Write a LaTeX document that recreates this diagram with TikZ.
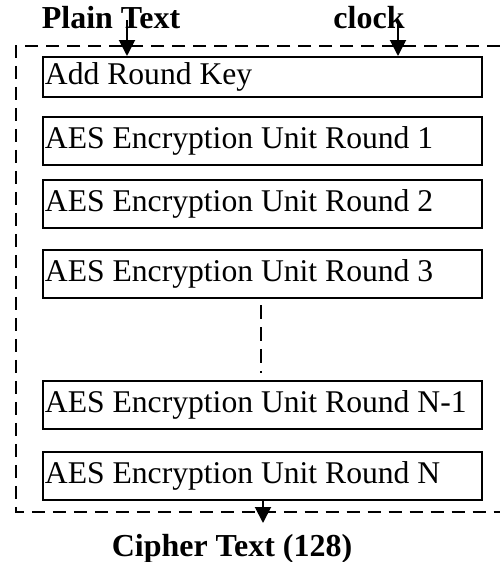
\documentclass[tikz,border=0pt]{standalone}
\usepackage{fontspec}
\setmainfont{Liberation Serif}
\usetikzlibrary{arrows.meta}
\begin{document}
\begin{tikzpicture}[x=0.02cm, y=-0.02cm,
  unitbox/.style={draw, line width=1.1pt, anchor=north west, text width=8.7cm, inner xsep=0.04cm, inner ysep=0pt, align=flush left, minimum height=0.96cm, font=\fontsize{18}{22}\selectfont},
  iolabel/.style={anchor=base, font=\fontsize{18.2}{22}\selectfont\bfseries},
  flow/.style={line width=1.1pt, -{Triangle[length=0.32cm, width=0.32cm]}},
  frame/.style={line width=0.85pt, dash pattern=on 0.26cm off 0.16cm}]
\useasboundingbox (0,0) rectangle (500,562);

% Dashed frame round the rounds
\draw[frame] (500,46) -- (16,46) -- (16,512) -- (500,512);

% The round boxes
\node[unitbox, minimum height=0.8cm] (addkey) at (42,56) {Add Round Key};
\node[unitbox] (round1) at (42,116) {AES Encryption Unit Round 1};
\node[unitbox] (round2) at (42,179) {AES Encryption Unit Round 2};
\node[unitbox] (round3) at (42,249) {AES Encryption Unit Round 3};
\node[unitbox] (roundn1) at (42,380) {AES Encryption Unit Round N-1};
\node[unitbox] (roundn) at (42,451) {AES Encryption Unit Round N};

% Rounds left out
\draw[line width=0.85pt, dash pattern=on 0.28cm off 0.16cm] (261,305) -- (261,373);

% Inputs and output
\node[iolabel] (plain) at (111,28) {Plain Text};
\node[iolabel] (clk) at (369,28) {clock};
\node[iolabel] (cipher) at (232,556) {Cipher Text (128)};
\coordinate (pin) at (127,20);
\coordinate (cin) at (398,22);
\coordinate (cout) at (263,523);
\draw[flow] (pin) -- (pin |- addkey.north);
\draw[flow] (cin) -- (cin |- addkey.north);
\draw[flow] (cout |- roundn.south) -- (cout);
\end{tikzpicture}
\end{document}
